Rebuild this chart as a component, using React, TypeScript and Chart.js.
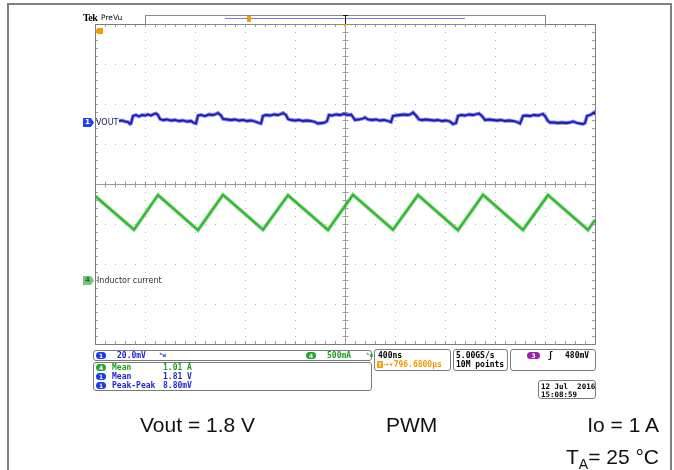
import React, { useEffect, useRef } from 'react';
import { Chart, registerables } from 'chart.js';

Chart.register(...registerables);

// ---- Scope settings ----
const TIME_PER_DIV_NS = 400;
const X_DIVS = 10;
const Y_DIVS = 8;
const CH1_SCALE_MV = 20; // mV/div
const CH1_OFFSET_MV = 1810;
const CH1_POS_DIV = 1.55;
const CH4_SCALE_MA = 500; // mA/div
const CH4_POS_DIV = -2.4;

// ---- Channel 1: VOUT (time ns, value mV) ----
const VOUT_T_NS = [
  192, 216, 240, 264, 280, 288,
  304, 328, 352, 376, 400, 424, 448, 472, 488, 504,
  520, 544, 576, 608, 640, 672, 704, 736, 768, 792, 808,
  824, 848, 880, 912, 944, 968, 984, 1008,
  1024, 1056, 1088, 1120, 1152, 1184, 1216, 1248, 1280, 1312, 1328,
  1344, 1368, 1400, 1432, 1464, 1488, 1504, 1528,
  1544, 1568, 1600, 1632, 1664, 1696, 1728, 1760, 1784, 1816, 1840, 1856,
  1872, 1896, 1928, 1960, 1992, 2024, 2048, 2064,
  2080, 2112, 2144, 2160, 2184, 2216, 2248, 2280, 2312, 2344, 2368,
  2384, 2408, 2440, 2472, 2504, 2528, 2544, 2568,
  2592, 2616, 2648, 2680, 2712, 2744, 2776, 2808, 2840, 2864, 2888,
  2904, 2928, 2960, 2992, 3024, 3056, 3072, 3096,
  3120, 3152, 3184, 3216, 3248, 3280, 3312, 3344, 3376, 3400,
  3424, 3448, 3480, 3512, 3544, 3568, 3584, 3600,
  3624, 3640, 3672, 3704, 3736, 3768, 3800, 3824, 3856, 3880, 3904, 3920,
  3936, 3960, 3976, 3992, 4000,
];
const VOUT_MV = [
  1810.5, 1810.75, 1810.25, 1810, 1809, 1809.25,
  1813, 1813.5, 1812.75, 1813.5, 1813.25, 1813.75, 1813.25, 1814, 1814.25, 1813.5,
  1811.5, 1811, 1811.25, 1810.75, 1811, 1810.5, 1810.75, 1810.25, 1810.5, 1809.5, 1809.25,
  1813.25, 1813.5, 1813, 1813.75, 1813.5, 1814, 1814.5, 1813.25,
  1811.5, 1811.25, 1811, 1811.25, 1810.75, 1811, 1810.5, 1810.75, 1810.25, 1809.5, 1809.25,
  1813, 1813.5, 1813.25, 1813.75, 1813.5, 1814, 1814.5, 1813.5,
  1811.5, 1811, 1810.75, 1811, 1810.5, 1810.75, 1810.5, 1810, 1809.25, 1809.5, 1809.75, 1810.5,
  1813.5, 1813.25, 1813.75, 1813.5, 1814, 1813.5, 1813.75, 1812.5,
  1811, 1811.25, 1811.75, 1812.25, 1811.25, 1811, 1811.25, 1810.75, 1811, 1810.5, 1810,
  1813, 1813.25, 1813.5, 1813.75, 1813.5, 1814, 1814.75, 1813.25,
  1811.25, 1811, 1811.25, 1811, 1810.75, 1811, 1810.5, 1810.75, 1810.25, 1809, 1809.5,
  1813, 1813.5, 1813.25, 1813.75, 1813.5, 1814, 1814.25, 1813,
  1811, 1811.25, 1811, 1810.75, 1811, 1810.5, 1810.75, 1810.5, 1810, 1809.25,
  1813, 1813.25, 1813, 1813.5, 1813.25, 1813.75, 1814, 1813,
  1810.5, 1809.75, 1809.75, 1809.5, 1809.75, 1809.5, 1809.75, 1810.25, 1809.5, 1809.25, 1809, 1809.5,
  1813, 1813.5, 1814, 1814.75, 1813.75,
];

// ---- Channel 4: Inductor current (time ns, value mA) ----
const IL_T_NS = [0, 312, 504, 824, 1024, 1344, 1544, 1864, 2064, 2384, 2584, 2904, 3104, 3424, 3624, 3944, 4000];
const IL_MA = [1050, 628, 1062, 624, 1065, 630, 1060, 626, 1066, 628, 1062, 623, 1064, 627, 1061, 625, 750];

const MONO = '"DejaVu Sans Mono", "Liberation Mono", monospace';
const BLUE_TXT = '#1e1ed2';
const GREEN_TXT = '#1d9f1d';
const ORANGE = '#f29a00';

const scopeGrid = {
  id: 'scopeGrid',
  beforeDatasetsDraw(chart: any) {
    const { ctx, chartArea: a, scales } = chart;
    const xs = scales.x;
    const ys = scales.y;
    const X = (div: number) => Math.round(xs.getPixelForValue(div * TIME_PER_DIV_NS));
    const Y = (div: number) => Math.round(ys.getPixelForValue(div - Y_DIVS / 2));
    ctx.save();
    // dotted graticule
    ctx.fillStyle = '#b4b4b4';
    for (let i = 1; i < X_DIVS; i++) {
      if (i === X_DIVS / 2) continue;
      const px = X(i);
      for (let k = 1; k < Y_DIVS * 5; k++) ctx.fillRect(px, Y(k / 5), 1, 1);
    }
    for (let j = 1; j < Y_DIVS; j++) {
      if (j === Y_DIVS / 2) continue;
      const py = Y(j);
      for (let k = 1; k < X_DIVS * 5; k++) ctx.fillRect(X(k / 5), py, 1, 1);
    }
    // centre cross
    ctx.strokeStyle = '#9c9c9c';
    ctx.lineWidth = 1;
    const cx = X(X_DIVS / 2) + 0.5;
    const cy = Y(Y_DIVS / 2) + 0.5;
    ctx.beginPath();
    ctx.moveTo(a.left, cy); ctx.lineTo(a.right, cy);
    ctx.moveTo(cx, a.top); ctx.lineTo(cx, a.bottom);
    for (let k = 1; k < X_DIVS * 5; k++) {
      const px = X(k / 5) + 0.5;
      ctx.moveTo(px, cy - 3); ctx.lineTo(px, cy + 3);
      ctx.moveTo(px, a.top); ctx.lineTo(px, a.top + 3);
      ctx.moveTo(px, a.bottom); ctx.lineTo(px, a.bottom - 3);
    }
    for (let k = 1; k < Y_DIVS * 5; k++) {
      const py = Y(k / 5) + 0.5;
      ctx.moveTo(cx - 3, py); ctx.lineTo(cx + 3, py);
      ctx.moveTo(a.left, py); ctx.lineTo(a.left + 3, py);
      ctx.moveTo(a.right, py); ctx.lineTo(a.right - 3, py);
    }
    ctx.stroke();
    // frame
    ctx.strokeStyle = '#7c7c7c';
    ctx.strokeRect(Math.round(a.left) + 0.5, Math.round(a.top) + 0.5, Math.round(a.right - a.left), Math.round(a.bottom - a.top));
    ctx.restore();
  },
};

const abs = (x: number, y: number, extra: React.CSSProperties = {}): React.CSSProperties => ({
  position: 'absolute', left: x, top: y, ...extra,
});

function Txt({ x, y, color = '#000', children, size = 8 }: any) {
  return (
    <div style={abs(x, y, { fontFamily: MONO, fontSize: size, fontWeight: 'bold', lineHeight: '9px', color, whiteSpace: 'pre' })}>
      {children}
    </div>
  );
}

function Pill({ x, y, bg, label, w = 10 }: any) {
  return (
    <div style={abs(x, y, {
      width: w, height: 7, borderRadius: 4, background: bg, color: '#fff',
      fontFamily: '"DejaVu Sans", sans-serif', fontSize: 6, fontWeight: 'bold', lineHeight: '7px', textAlign: 'center',
    })}>{label}</div>
  );
}

function Box({ x, y, w, h }: any) {
  return <div style={abs(x, y, { width: w, height: h, boxSizing: 'border-box', border: '1px solid #7a7a7a', borderRadius: 3 })} />;
}

export default function App() {
  const ref = useRef<HTMLCanvasElement>(null);

  useEffect(() => {
    const toDiv1 = (mv: number) => CH1_POS_DIV + (mv - CH1_OFFSET_MV) / CH1_SCALE_MV;
    const toDiv4 = (ma: number) => CH4_POS_DIV + ma / CH4_SCALE_MA;
    const vout = VOUT_T_NS.map((t, i) => ({ x: t, y: toDiv1(VOUT_MV[i]) }));
    const il = IL_T_NS.map((t, i) => ({ x: t, y: toDiv4(IL_MA[i]) }));

    const chart = new Chart(ref.current as HTMLCanvasElement, {
      type: 'line',
      data: {
        datasets: [
          { label: 'VOUT halo', data: vout, borderColor: 'rgba(40,40,215,0.55)', borderWidth: 3.8 },
          { label: 'VOUT', data: vout, borderColor: '#0c0c8a', borderWidth: 1.8 },
          { label: 'Inductor current halo', data: il, borderColor: 'rgba(60,195,60,0.65)', borderWidth: 3.8 },
          { label: 'Inductor current', data: il, borderColor: '#179417', borderWidth: 1.8 },
        ],
      },
      options: {
        responsive: false,
        animation: false,
        parsing: false,
        normalized: true,
        layout: { padding: { left: 95, right: 79, top: 24, bottom: 126 } },
        elements: { point: { radius: 0 }, line: { tension: 0 } },
        plugins: { legend: { display: false }, tooltip: { enabled: false } },
        scales: {
          x: { type: 'linear', display: false, min: 0, max: X_DIVS * TIME_PER_DIV_NS },
          y: { type: 'linear', display: false, min: -Y_DIVS / 2, max: Y_DIVS / 2 },
        },
      },
      plugins: [scopeGrid],
    } as any);
    return () => chart.destroy();
  }, []);

  return (
    <div style={{ position: 'fixed', left: 0, top: 0, width: 674, height: 470, background: '#fff', overflow: 'hidden' }}>
      <canvas ref={ref} width={674} height={470} style={{ position: 'absolute', left: 0, top: 0, width: 674, height: 470 }} />

      {/* outer frame */}
      <div style={abs(7, 3, { width: 665, height: 500, boxSizing: 'border-box', borderLeft: '2px solid #808080', borderTop: '2px solid #808080', borderRight: '2px solid #808080' })} />

      {/* header */}
      <div style={abs(83, 12, { fontFamily: '"Liberation Serif", serif', fontWeight: 'bold', fontSize: 10, lineHeight: '11px', letterSpacing: -0.5 })}>Tek</div>
      <div style={abs(101, 13, { fontFamily: '"DejaVu Sans", sans-serif', fontSize: 7.5, lineHeight: '9px' })}>PreVu</div>
      <div style={abs(145, 15, { width: 401, height: 10, boxSizing: 'border-box', border: '1px solid #8a8a8a' })} />
      <div style={abs(225, 18, { width: 240, height: 1, background: '#7878ff' })} />
      <div style={abs(247, 16, { width: 4, height: 6, background: ORANGE, borderRadius: 1 })} />
      <div style={abs(345, 15, { width: 1, height: 10, background: '#111' })} />
      <div style={abs(343, 15, { width: 5, height: 1, background: '#111' })} />
      <div style={abs(343, 24, { width: 0, height: 0, borderLeft: '2.5px solid transparent', borderRight: '2.5px solid transparent', borderTop: `3px solid ${ORANGE}` })} />

      {/* trigger level marker */}
      <div style={abs(95, 28, { width: 8, height: 6, background: ORANGE, clipPath: 'polygon(0 50%, 35% 0, 100% 0, 100% 100%, 35% 100%)' })} />

      {/* channel markers */}
      <div style={abs(83, 118, {
        width: 11, height: 9, background: '#2443ea', color: '#fff', fontFamily: '"DejaVu Sans", sans-serif', fontSize: 7, fontWeight: 'bold',
        lineHeight: '9px', paddingLeft: 2, boxSizing: 'border-box', clipPath: 'polygon(0 0, 72% 0, 100% 50%, 72% 100%, 0 100%)',
      })}>1</div>
      <div style={abs(96, 117.5, { fontFamily: '"DejaVu Sans", sans-serif', fontSize: 8, lineHeight: '9px', color: '#15155a' })}>VOUT</div>

      <div style={abs(83, 276, {
        width: 11, height: 9, background: '#78c478', color: '#2d6b2d', fontFamily: '"DejaVu Sans", sans-serif', fontSize: 7, fontWeight: 'bold',
        lineHeight: '9px', paddingLeft: 2, boxSizing: 'border-box', clipPath: 'polygon(0 0, 72% 0, 100% 50%, 72% 100%, 0 100%)',
      })}>4</div>
      <div style={abs(97, 275.5, { fontFamily: '"DejaVu Sans", sans-serif', fontSize: 8, lineHeight: '9px', color: '#333' })}>Inductor current</div>

      {/* bottom readouts */}
      <Box x={93} y={350} w={279} h={11} />
      <Pill x={96} y={352} bg="#1c3ae8" label="1" />
      <Txt x={117} y={351} color={BLUE_TXT}>20.0mV</Txt>
      <Txt x={159} y={350} color={BLUE_TXT} size={6}>ᵇw</Txt>
      <Pill x={306} y={352} bg="#22a52a" label="4" />
      <Txt x={327} y={351} color={GREEN_TXT}>500mA</Txt>
      <Txt x={366} y={350} color={GREEN_TXT} size={6}>ᵇw</Txt>

      <Box x={93} y={362} w={279} h={29} />
      <Pill x={96} y={364} bg="#22a52a" label="4" />
      <Txt x={112} y={362.5} color={GREEN_TXT}>Mean</Txt>
      <Txt x={163} y={362.5} color={GREEN_TXT}>1.01 A</Txt>
      <Pill x={96} y={373} bg="#1c3ae8" label="1" />
      <Txt x={112} y={371.5} color={BLUE_TXT}>Mean</Txt>
      <Txt x={163} y={371.5} color={BLUE_TXT}>1.81 V</Txt>
      <Pill x={96} y={382} bg="#1c3ae8" label="1" />
      <Txt x={112} y={380.5} color={BLUE_TXT}>Peak-Peak</Txt>
      <Txt x={163} y={380.5} color={BLUE_TXT}>8.80mV</Txt>

      <Box x={374} y={349} w={77} h={22} />
      <Txt x={378} y={350.5}>400ns</Txt>
      <div style={abs(377, 361, { width: 6, height: 7, background: ORANGE, borderRadius: 1, color: '#fff', fontFamily: MONO, fontSize: 6, lineHeight: '7px', textAlign: 'center', fontWeight: 'bold' })}>T</div>
      <Txt x={384} y={360} color={ORANGE}>→▾796.6800µs</Txt>

      <Box x={453} y={349} w={55} h={22} />
      <Txt x={456} y={350.5}>5.00GS/s</Txt>
      <Txt x={456} y={360}>10M points</Txt>

      <Box x={510} y={349} w={86} h={22} />
      <Pill x={527} y={352} bg="#9c22a8" label="3" w={13} />
      <Txt x={548} y={350.5}>ʃ</Txt>
      <Txt x={565} y={350.5}>480mV</Txt>

      <Box x={538} y={380} w={58} h={19} />
      <Txt x={541} y={381.5} size={7.5}>12 Jul  2016</Txt>
      <Txt x={541} y={389.5} size={7.5}>15:08:59</Txt>

      {/* annotations */}
      <div style={abs(140, 414, { fontFamily: '"Liberation Sans", Arial, sans-serif', fontSize: 21, lineHeight: '21px', color: '#111', whiteSpace: 'pre' })}>Vout = 1.8 V</div>
      <div style={abs(386, 414, { fontFamily: '"Liberation Sans", Arial, sans-serif', fontSize: 21, lineHeight: '21px', color: '#111' })}>PWM</div>
      <div style={{ position: 'absolute', right: 15, top: 414, fontFamily: '"Liberation Sans", Arial, sans-serif', fontSize: 21, lineHeight: '21px', color: '#111', whiteSpace: 'pre' }}>Io = 1 A</div>
      <div style={{ position: 'absolute', right: 15, top: 446, fontFamily: '"Liberation Sans", Arial, sans-serif', fontSize: 21, lineHeight: '21px', color: '#111', whiteSpace: 'pre' }}>
        T<sub style={{ fontSize: 14, verticalAlign: -5, lineHeight: 0 }}>A</sub>= 25 °C
      </div>
    </div>
  );
}
